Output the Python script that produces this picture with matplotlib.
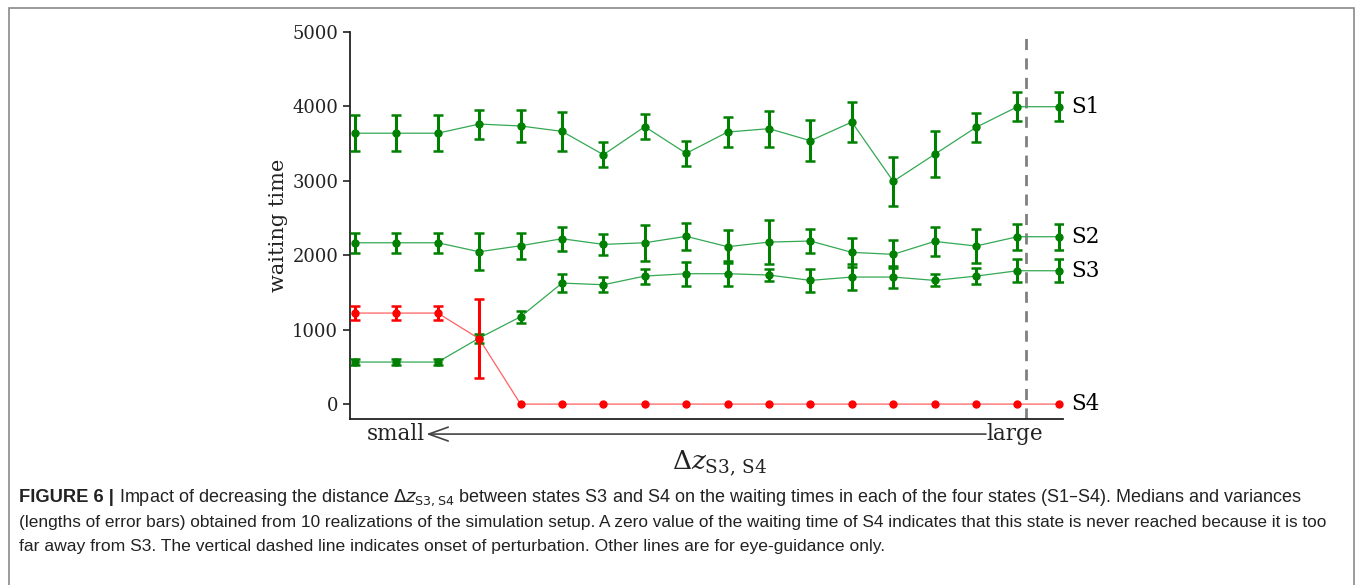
import numpy as np
import matplotlib
matplotlib.use("Agg")
import matplotlib.pyplot as plt
from matplotlib.patches import Rectangle

plt.rcParams["font.family"] = "DejaVu Serif"
plt.rcParams["mathtext.fontset"] = "dejavuserif"

# medians and error-bar half lengths (index 0 = small, 17 = large)
x_idx = np.arange(18)

s1 = [3640, 3640, 3640, 3763, 3737, 3665, 3351, 3728, 3369,
      3656, 3701, 3539, 3790, 2993, 3356, 3719, 3996, 3996]
s1_err = [245, 245, 245, 195, 215, 262, 168, 172, 166,
          198, 242, 278, 267, 334, 307, 195, 193, 193]

s2 = [2168, 2168, 2168, 2047, 2128, 2222, 2146, 2168, 2254,
      2115, 2177, 2191, 2039, 2012, 2186, 2124, 2249, 2249]
s2_err = [137, 137, 137, 250, 173, 164, 137, 242, 182,
          225, 300, 163, 195, 188, 190, 230, 177, 177]

s3 = [565, 565, 565, 887, 1174, 1626, 1604, 1720, 1752,
      1752, 1734, 1662, 1707, 1707, 1662, 1720, 1792, 1792]
s3_err = [45, 45, 45, 60, 83, 117, 100, 100, 163,
          165, 83, 157, 180, 143, 80, 112, 157, 157]

s4 = [1223, 1223, 1223, 878, 0, 0, 0, 0, 0,
      0, 0, 0, 0, 0, 0, 0, 0, 0]
s4_err = [92, 92, 92, 533, 0, 0, 0, 0, 0,
          0, 0, 0, 0, 0, 0, 0, 0, 0]

series = [("S1", s1, s1_err, "green", "#34a853"),
          ("S2", s2, s2_err, "green", "#34a853"),
          ("S3", s3, s3_err, "green", "#34a853"),
          ("S4", s4, s4_err, "red", "#ff6060")]

perturb_x = 16.2

fig = plt.figure(figsize=(13.55, 5.85), dpi=100)
ax = fig.add_axes([0.2583, 0.2838, 0.5262, 0.6615])

for name, vals, errs, col, lcol in series:
    vals = np.array(vals, dtype=float)
    errs = np.array(errs, dtype=float)
    ax.plot(x_idx, vals, color=lcol, lw=0.9, zorder=2)
    ax.plot(x_idx, vals, "o", color=col, ms=5, zorder=4)
    has_err = errs > 0
    ax.errorbar(x_idx[has_err], vals[has_err], yerr=errs[has_err], fmt="none",
                ecolor=col, elinewidth=2.2, capsize=3.5, capthick=1.8, zorder=3)
    ax.text(17.3, vals[-1], name, va="center", ha="left", fontsize=15.5,
            clip_on=False)

ax.axvline(perturb_x, color="#808080", ls="--", lw=2, dashes=(4, 3), zorder=1)

ax.set_xlim(-0.12, 17.1)
ax.set_ylim(-200, 5000)
ax.set_yticks([0, 1000, 2000, 3000, 4000, 5000])
ax.set_xticks([])
ax.tick_params(axis="y", labelsize=13, length=5, width=1.2, colors="#222222")
for side in ("top", "right"):
    ax.spines[side].set_visible(False)
for side in ("left", "bottom"):
    ax.spines[side].set_linewidth(1.3)
    ax.spines[side].set_color("#222222")
ax.set_ylabel("waiting time", fontsize=15, labelpad=3, color="#222222")

# small <---- large arrow under the axis
ax.annotate("", xy=(0.107, -0.039), xytext=(0.892, -0.039),
            xycoords="axes fraction",
            arrowprops=dict(arrowstyle="->, head_length=0.7, head_width=0.25",
                            color="#444444", lw=1.2, shrinkA=0, shrinkB=0,
                            mutation_scale=20))
ax.text(0.105, -0.039, "small", transform=ax.transAxes, ha="right",
        va="center", fontsize=15.5, color="#222222")
ax.text(0.893, -0.039, "large", transform=ax.transAxes, ha="left",
        va="center", fontsize=15.5, color="#222222")
ax.text(0.519, -0.114, r"$\Delta z_{\mathrm{S3,\,S4}}$", transform=ax.transAxes,
        ha="center", va="center", fontsize=19, color="#222222")

# caption box
fig.add_artist(Rectangle((9 / 1355, -0.02), (1354 - 9) / 1355, 1.02 - 8 / 585,
                         transform=fig.transFigure, fill=False,
                         edgecolor="#8a8a8a", lw=1.2))

cap_font = ["Liberation Sans Narrow", "Liberation Sans", "DejaVu Sans"]
cap_size = 12.6
line_y = [1 - 498 / 585, 1 - 523 / 585, 1 - 547 / 585]
cap_x = 19 / 1355

bold = fig.text(cap_x, line_y[0], "FIGURE 6 |", family=cap_font,
                fontweight="bold", fontsize=cap_size + 0.6, va="center", color="#222222")
fig.canvas.draw()
bb = bold.get_window_extent(renderer=fig.canvas.get_renderer())
x_after = bb.x1 / fig.bbox.width + 5 / 1355
fig.text(x_after, line_y[0],
         r"Impact of decreasing the distance $\Delta z_{\mathrm{S3,S4}}$ between states S3 and S4 "
         "on the waiting times in each of the four states (S1\u2013S4). Medians and variances",
         family=cap_font, fontsize=cap_size + 0.4, va="center", color="#222222",
         math_fontfamily="dejavusans")
fig.text(cap_x, line_y[1],
         "(lengths of error bars) obtained from 10 realizations of the simulation setup. "
         "A zero value of the waiting time of S4 indicates that this state is never reached "
         "because it is too",
         family=cap_font, fontsize=cap_size - 0.2, va="center", color="#222222")
fig.text(cap_x, line_y[2],
         "far away from S3. The vertical dashed line indicates onset of perturbation. "
         "Other lines are for eye-guidance only.",
         family=cap_font, fontsize=cap_size, va="center", color="#222222")

fig.savefig("out.png", dpi=100)
